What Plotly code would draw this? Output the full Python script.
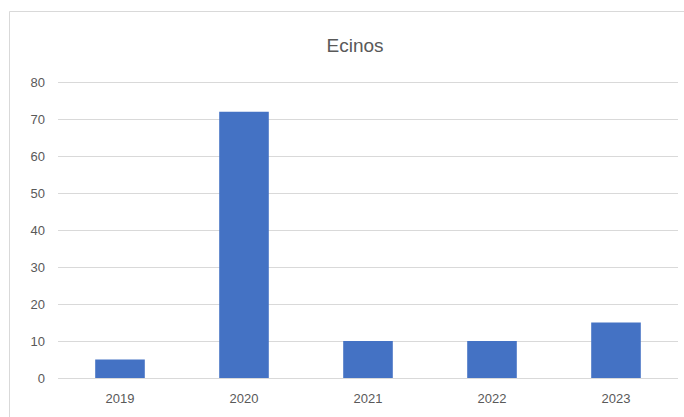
import plotly.graph_objects as go

categories = ["2019", "2020", "2021", "2022", "2023"]
values = [5, 72, 10, 10, 15]
y_ticks = [0, 10, 20, 30, 40, 50, 60, 70, 80]

L, R, T, B = 58, 6, 81, 39
W, H = 684, 417
pw, ph = W - L - R, H - T - B

fig = go.Figure(go.Bar(x=categories, y=values, marker=dict(color="#4472C4", line=dict(width=0))))

fig.update_layout(
    width=W, height=H,
    margin=dict(l=L, r=R, t=T, b=B, pad=0),
    paper_bgcolor="white", plot_bgcolor="white",
    bargap=0.6,
    showlegend=False,
    font=dict(family="Liberation Sans", size=13, color="#595959"),
    title=dict(text="Ecinos", x=(355) / W, xanchor="center", y=1 - 45 / H, yanchor="middle",
               font=dict(family="Liberation Sans", size=19, color="#595959")),
    xaxis=dict(showgrid=False, showline=True, linecolor="#d9d9d9", linewidth=1, ticks="",
               tickfont=dict(size=13, color="#595959"), ticklabelstandoff=8),
    yaxis=dict(range=[0, 80.3], tickvals=y_ticks, showgrid=True, gridcolor="#d9d9d9", gridwidth=1,
               zeroline=False, showline=False, ticks="", tickfont=dict(size=13, color="#595959"),
               ticklabelstandoff=12),
    shapes=[dict(type="rect", xref="paper", yref="paper",
                 x0=(9.5 - L) / pw, x1=(W + 20 - L) / pw,
                 y0=(H - B - (H + 20)) / ph, y1=(H - B - 11.5) / ph,
                 line=dict(color="#d9d9d9", width=1), fillcolor="rgba(0,0,0,0)", layer="below")],
)

fig.write_html("out.html")
